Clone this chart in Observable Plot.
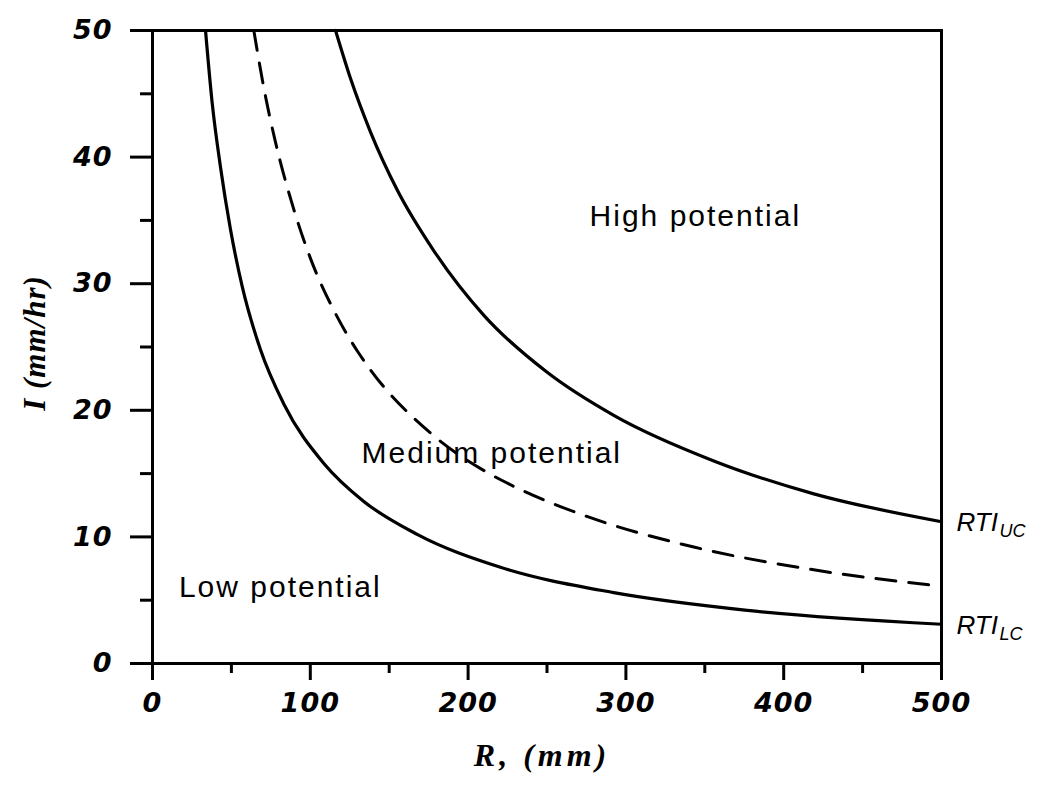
<!DOCTYPE html>
<html><head><meta charset="utf-8">
<script src="https://cdn.jsdelivr.net/npm/d3@7"></script>
<script src="https://cdn.jsdelivr.net/npm/@observablehq/plot@0.6"></script>
<style>
body{margin:0;background:#fff}
#chart svg{display:block;background:#fff}
</style></head><body><div id="chart"></div>
<script>
// Lower critical curve (RTI_LC)
const R_lower = [33.6, 37.8, 43.1, 49.4, 56.8, 68.4, 83.2, 108.6, 133.9, 167.7, 220.5, 292.3, 376.9, 500];
const I_lower = [50, 44.3, 39.2, 34.3, 29.8, 24.8, 20.5, 15.8, 12.8, 10.2, 7.6, 5.6, 4.2, 3.1];
// Middle dashed curve
const R_mid = [64.2, 70.5, 77.9, 88.5, 100.1, 117, 129.7, 138.1, 176.2, 212, 228.8, 271.2, 343, 419, 500];
const I_mid = [50, 45.5, 41.2, 36.3, 32.0, 27.4, 24.7, 23.2, 18.2, 15.1, 14.0, 11.8, 9.2, 7.4, 6.1];
// Upper critical curve (RTI_UC)
const R_upper = [116, 125.5, 138.1, 155.1, 178.3, 210, 250.1, 292.3, 355.7, 419.1, 500];
const I_upper = [50, 46.2, 42.0, 37.4, 32.6, 27.5, 23.0, 19.6, 16.0, 13.4, 11.2];

const xMajor = [0, 100, 200, 300, 400, 500];
const xMinor = [50, 150, 250, 350, 450];
const yMajor = [0, 10, 20, 30, 40, 50];
const yMinor = [5, 15, 25, 35, 45];

const regionLabels = ["High potential", "Medium potential", "Low potential"];
const regionR = [344, 215, 81];
const regionI = [35.3, 16.6, 6.0];

const xLabel = "R, (mm)";
const yLabel = "I (mm/hr)";

const toRows = (R, I) => R.map((r, i) => ({R: r, I: I[i]}));
const lower = toRows(R_lower, I_lower);
const mid = toRows(R_mid, I_mid);
const upper = toRows(R_upper, I_upper);
const regions = regionLabels.map((t, i) => ({t, R: regionR[i], I: regionI[i]}));

const tickFont = {fontSize: 27, fontWeight: "bold", fontStyle: "italic", fontFamily: "DejaVu Sans"};

const plot = Plot.plot({
  width: 1038,
  height: 787,
  marginLeft: 152,
  marginRight: 97,
  marginTop: 30,
  marginBottom: 124,
  x: {domain: [0, 500]},
  y: {domain: [0, 50]},
  style: {background: "white", color: "black"},
  marks: [
    Plot.line(lower, {x: "R", y: "I", curve: "monotone-x", stroke: "black", strokeWidth: 3.2}),
    Plot.line(mid, {x: "R", y: "I", curve: "monotone-x", stroke: "black", strokeWidth: 3, strokeDasharray: "20,13"}),
    Plot.line(upper, {x: "R", y: "I", curve: "monotone-x", stroke: "black", strokeWidth: 3.2}),
    Plot.frame({stroke: "black", strokeWidth: 3}),
    Plot.axisX({ticks: xMajor, tickSize: 17, tickPadding: 12, strokeWidth: 3, label: null, ...tickFont}),
    Plot.axisX({ticks: xMinor, tickSize: 10, text: null, strokeWidth: 3, label: null}),
    Plot.axisY({ticks: yMajor, tickSize: 22, tickPadding: 18, strokeWidth: 3, label: null, ...tickFont}),
    Plot.axisY({ticks: yMinor, tickSize: 12, text: null, strokeWidth: 3, label: null}),
    Plot.text(regions, {x: "R", y: "I", text: "t", fontSize: 30, fontFamily: "Liberation Sans", textAnchor: "middle", lineAnchor: "middle", fill: "black"}),
    Plot.text([{R: 500, I: I_upper[I_upper.length - 1], t: "RTI"}, {R: 500, I: I_lower[I_lower.length - 1], t: "RTI"}],
      {x: "R", y: "I", text: "t", dx: 15, dy: 1, textAnchor: "start", lineAnchor: "middle", fontSize: 26, fontStyle: "italic", fontFamily: "Liberation Sans", fill: "black"}),
    Plot.text([{R: 500, I: I_upper[I_upper.length - 1], t: "UC"}, {R: 500, I: I_lower[I_lower.length - 1], t: "LC"}],
      {x: "R", y: "I", text: "t", dx: 58, dy: 10, textAnchor: "start", lineAnchor: "middle", fontSize: 18, fontStyle: "italic", fontFamily: "Liberation Sans", fill: "black"}),
    Plot.text([xLabel], {frameAnchor: "bottom", dx: -5, dy: 92, textAnchor: "middle", lineAnchor: "middle", fontSize: 32, fontWeight: "bold", fontStyle: "italic", fontFamily: "Liberation Serif", fill: "black"}),
    Plot.text([yLabel], {frameAnchor: "left", dx: -117, dy: -4, rotate: -90, textAnchor: "middle", lineAnchor: "middle", fontSize: 31, fontWeight: "bold", fontStyle: "italic", fontFamily: "Liberation Serif", fill: "black"})
  ]
});

// letter spacing to match the wide-set typography of the original scan
d3.select(plot).selectAll("text").each(function() {
  const t = this.textContent;
  if (regionLabels.includes(t)) this.setAttribute("letter-spacing", "2");
  else if (t === xLabel) this.setAttribute("letter-spacing", "4");
  else if (t === yLabel) this.setAttribute("letter-spacing", "1");
  else if (/^\d+$/.test(t)) this.setAttribute("letter-spacing", "1");
});

document.getElementById("chart").appendChild(plot);
</script>
</body></html>
